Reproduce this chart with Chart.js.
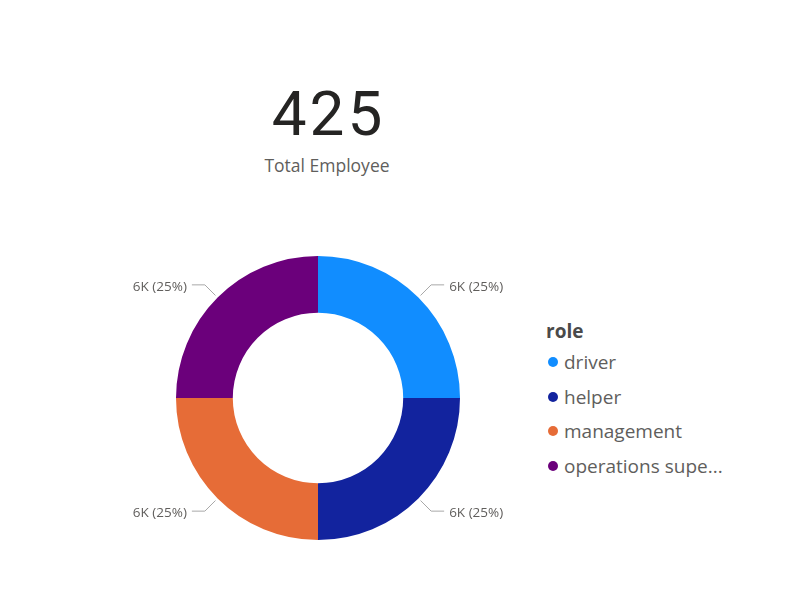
<!DOCTYPE html>
<html>
<head>
<meta charset="utf-8">
<script src="https://cdn.jsdelivr.net/npm/chart.js@4.4.1/dist/chart.umd.min.js"></script>
<style>
  html, body { margin:0; padding:0; background:#fff; width:786px; height:614px; overflow:hidden; }
  #kpi { position:absolute; left:227px; top:78px; width:200px; text-align:center; }
  #kpiValue { font-family: Roboto, "DejaVu Sans", sans-serif; font-weight:400; font-size:62px; color:#252423; letter-spacing:3px; line-height:72px; padding-left:3px; }
  #kpiLabel { font-family: "Open Sans", "Noto Sans", sans-serif; font-size:17.5px; color:#605E5C; line-height:24px; margin-top:3px; }
  #wrap { position:absolute; left:118px; top:198px; width:400px; height:400px; }
  #legend { position:absolute; left:546px; top:317px; font-family: "Open Sans", "Noto Sans", sans-serif; }
  #legend .title { font-weight:bold; font-size:19px; color:#4A4A4A; height:28px; line-height:28px; }
  #legend .item { font-size:19px; color:#605E5C; height:34.5px; line-height:34px; white-space:nowrap; position:relative; padding-left:18px; }
  #legend .dot { position:absolute; left:2px; top:12px; width:10px; height:10px; border-radius:50%; }
</style>
</head>
<body>
<div id="kpi"><div id="kpiValue"></div><div id="kpiLabel"></div></div>
<div id="wrap"><canvas id="c" width="400" height="400"></canvas></div>
<div id="legend"></div>
<script>
const kpiValue = "425";
const kpiLabel = "Total Employee";
const legendTitle = "role";
const categories = ["driver", "helper", "management", "operations supervisor"];
const values = [6000, 6000, 6000, 6000];
const colors = ["#118DFF", "#12239E", "#E66C37", "#6B007B"];

document.getElementById('kpiValue').textContent = kpiValue;
document.getElementById('kpiLabel').textContent = kpiLabel;

// legend
const lg = document.getElementById('legend');
const t = document.createElement('div'); t.className = 'title'; t.textContent = legendTitle; lg.appendChild(t);
categories.forEach((c, i) => {
  const it = document.createElement('div'); it.className = 'item';
  const d = document.createElement('span'); d.className = 'dot'; d.style.background = colors[i];
  it.appendChild(d);
  const txt = c.length > 15 ? c.slice(0, 15) + '...' : c;
  it.appendChild(document.createTextNode(txt));
  lg.appendChild(it);
});

function fmtK(v) { return (v >= 1000 ? Math.round(v / 1000) + 'K' : String(v)); }

const labelPlugin = {
  id: 'outLabels',
  afterDatasetsDraw(chart) {
    const ctx = chart.ctx;
    const meta = chart.getDatasetMeta(0);
    const data = chart.data.datasets[0].data;
    const total = data.reduce((a, b) => a + b, 0);
    ctx.save();
    ctx.font = '13.5px "Open Sans", "Noto Sans", sans-serif';
    ctx.textBaseline = 'middle';
    meta.data.forEach((arc, i) => {
      const p = arc.getProps(['x', 'y', 'startAngle', 'endAngle', 'outerRadius'], true);
      const mid = (p.startAngle + p.endAngle) / 2;
      const cos = Math.cos(mid), sin = Math.sin(mid);
      const r1 = p.outerRadius + 3, r2 = p.outerRadius + 18;
      const x1 = p.x + cos * r1, y1 = p.y + sin * r1;
      const x2 = p.x + cos * r2, y2 = p.y + sin * r2;
      const dir = cos >= 0 ? 1 : -1;
      const x3 = x2 + dir * 13;
      ctx.strokeStyle = '#A8A8A8';
      ctx.lineWidth = 1;
      ctx.beginPath();
      ctx.moveTo(x1, y1); ctx.lineTo(x2, y2); ctx.lineTo(x3, y2);
      ctx.stroke();
      const txt = fmtK(data[i]) + ' (' + Math.round(data[i] / total * 100) + '%)';
      ctx.fillStyle = '#605E5C';
      ctx.textAlign = dir > 0 ? 'left' : 'right';
      ctx.fillText(txt, x3 + dir * 5, y2 + 2);
    });
    ctx.restore();
  }
};

new Chart(document.getElementById('c'), {
  type: 'doughnut',
  data: {
    labels: categories,
    datasets: [{ data: values, backgroundColor: colors, borderWidth: 0, hoverOffset: 0 }]
  },
  options: {
    responsive: false,
    animation: false,
    cutout: '60%',
    layout: { padding: 58 },
    plugins: { legend: { display: false }, tooltip: { enabled: false } }
  },
  plugins: [labelPlugin]
});
</script>
</body>
</html>
